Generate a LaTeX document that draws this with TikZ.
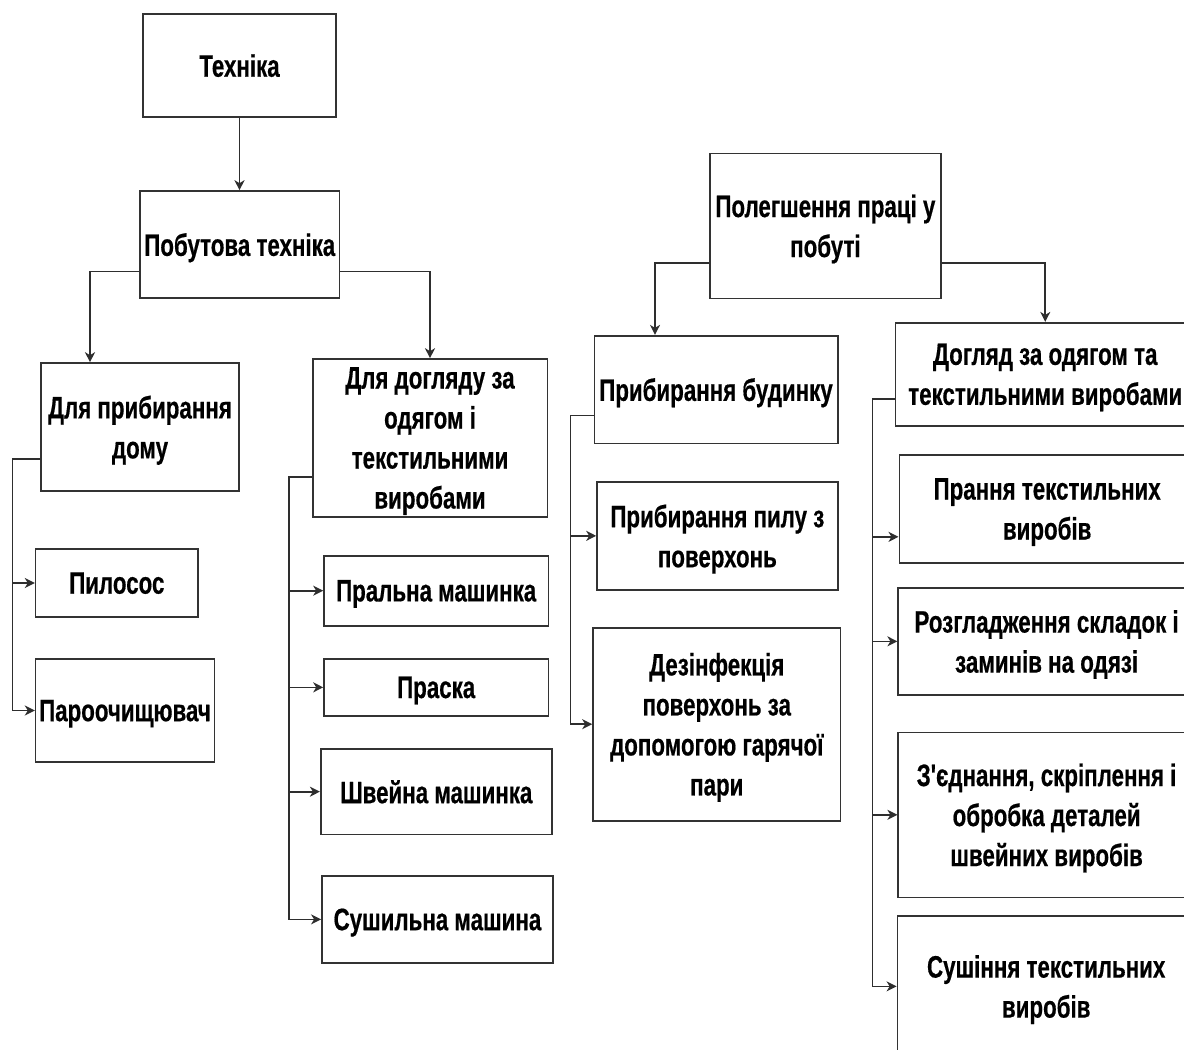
\documentclass[tikz,border=0pt]{standalone}
\usepackage{fontspec}
\newfontfamily\lbl[FakeStretch=0.72,FakeBold=0.5]{Liberation Sans}
\usetikzlibrary{arrows.meta}
\begin{document}
\begin{tikzpicture}[x=1pt,y=-1pt,
  box/.style={draw=black!80, line width=1.6pt, fill=white, align=center,
    inner sep=0pt, text depth=0pt, text=black,
    font=\lbl\bfseries\fontsize{31}{40}\selectfont},
  link/.style={draw=black!82, line width=1.7pt},
  arr/.style={link, -{Stealth[length=10pt,width=10pt,inset=3pt]}}]
\useasboundingbox (0,0) rectangle (1184,1050);
\clip (0,0) rectangle (1184,1050);

% left tree
\node[box, minimum width=193pt, minimum height=103pt] (tech) at (239.5,65.5) {Техніка};
\node[box, minimum width=199.5pt, minimum height=107pt] (pob) at (239.75,244.5) {Побутова техніка};
\node[box, minimum width=198pt, minimum height=128pt] (dp) at (140,427) {Для прибирання\\дому};
\node[box, minimum width=234.6pt, minimum height=157.7pt] (dd) at (430,437.85) {Для догляду за\\одягом і\\текстильними\\виробами};
\node[box, minimum width=162.4pt, minimum height=68pt] (pil) at (116.8,583) {Пилосос};
\node[box, minimum width=178.7pt, minimum height=103pt] (par) at (124.95,710.5) {Пароочищювач};
\node[box, minimum width=224.4pt, minimum height=70pt] (pm) at (436.2,590.7) {Пральна машинка};
\node[box, minimum width=224.4pt, minimum height=56.7pt] (prs) at (436.2,687.35) {Праска};
\node[box, minimum width=231.2pt, minimum height=85.3pt] (shv) at (436.3,791.65) {Швейна машинка};
\node[box, minimum width=231.1pt, minimum height=86.7pt] (sush) at (437.45,919.35) {Сушильна машина};

% right tree
\node[box, minimum width=231.2pt, minimum height=145pt] (pol) at (825.4,225.8) {Полегшення праці у\\побуті};
\node[box, minimum width=243.4pt, minimum height=107.6pt] (pb) at (716,389.5) {Прибирання будинку};
\node[box, minimum width=299.5pt, minimum height=103pt] (dz) at (1045.25,374.2) {Догляд за одягом та\\текстильними виробами};
\node[box, minimum width=240.7pt, minimum height=108.3pt] (ppil) at (717.35,535.85) {Прибирання пилу з\\поверхонь};
\node[box, minimum width=247.5pt, minimum height=193pt] (dez) at (716.75,724.2) {Дезінфекція\\поверхонь за\\допомогою гарячої\\пари};
\node[box, minimum width=295.7pt, minimum height=107.7pt] (pran) at (1047.15,508.85) {Прання текстильних\\виробів};
\node[box, minimum width=296.8pt, minimum height=107.3pt] (rozg) at (1046.6,641.35) {Розгладження складок і\\заминів на одязі};
\node[box, minimum width=296.8pt, minimum height=165pt] (zed) at (1046.6,814.8) {З'єднання, скріплення і\\обробка деталей\\швейних виробів};
\node[box, minimum width=297.6pt, minimum height=141.3pt] (sushi) at (1046.2,986.35) {Сушіння текстильних\\виробів};

% trunk lines and an off-centre entry point
\coordinate (tA) at (12.6,0);
\coordinate (tB) at (289,0);
\coordinate (tC) at (570.5,0);
\coordinate (tD) at (872.6,0);
\coordinate (pranIn) at ([yshift=-28pt]pran.west);

% connectors, left tree
\draw[arr] (tech.south) -- (tech.south |- pob.north);
\draw[arr] ([yshift=-27pt]pob.west) -| ([xshift=-50pt]dp.north);
\draw[arr] ([yshift=-27pt]pob.east) -| (dd.north);
\draw[arr] ([yshift=-32pt]dp.west) -| (tA |- par.west) -- (par.west);
\draw[arr] (tA |- pil.west) -- (pil.west);
\draw[arr] ([yshift=-39pt]dd.west) -| (tB |- sush.west) -- (sush.west);
\draw[arr] (tB |- pm.west) -- (pm.west);
\draw[arr] (tB |- prs.west) -- (prs.west);
\draw[arr] (tB |- shv.west) -- (shv.west);

% connectors, right tree
\draw[arr] ([yshift=-37pt]pol.west) -| ([xshift=-61pt]pb.north);
\draw[arr] ([yshift=-37pt]pol.east) -| (dz.north);
\draw[arr] ([yshift=-26pt]pb.west) -| (tC |- dez.west) -- (dez.west);
\draw[arr] (tC |- ppil.west) -- (ppil.west);
\draw[arr] ([yshift=-25pt]dz.west) -| (tD |- sushi.west) -- (sushi.west);
\draw[arr] (tD |- pranIn) -- (pranIn);
\draw[arr] (tD |- rozg.west) -- (rozg.west);
\draw[arr] (tD |- zed.west) -- (zed.west);
\end{tikzpicture}
\end{document}
